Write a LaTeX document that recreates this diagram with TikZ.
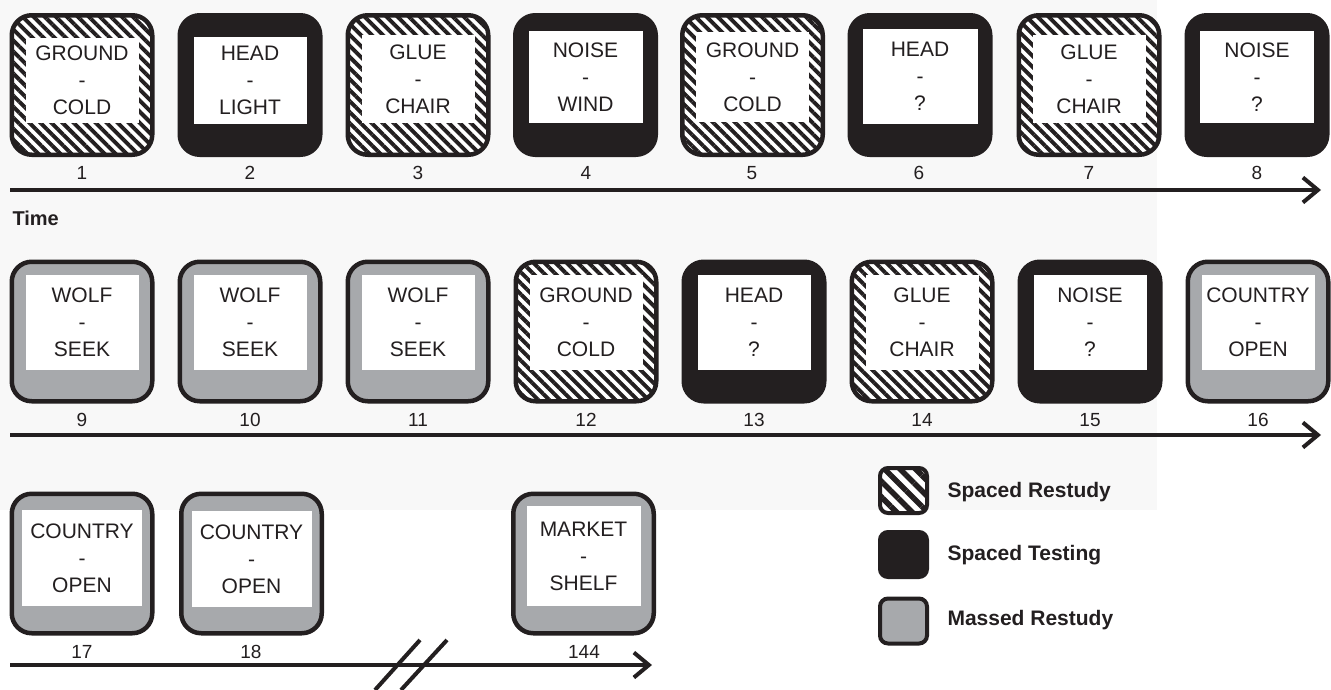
\documentclass[tikz,border=0pt]{standalone}
\usepackage{fontspec}
\setmainfont{Liberation Sans}
\usetikzlibrary{arrows.meta,patterns.meta}
\definecolor{ink}{HTML}{231F20}
\definecolor{midgray}{HTML}{A7A9AC}
\definecolor{bgtint}{HTML}{F8F8F8}
\tikzset{
  cardbase/.style={rounded corners=20pt, line width=4.5pt, draw=ink, minimum width=140.5pt, minimum height=139.5pt, inner sep=0pt},
  hatched/.style={preaction={fill=white}, pattern={Lines[angle=-45,distance=7.8pt,line width=3.9pt]}, pattern color=ink},
  blackcard/.style={fill=ink},
  graycard/.style={fill=midgray},
  innerbox/.style={fill=white, minimum width=113pt, inner sep=0pt, align=center, font=\fontsize{21}{27}\selectfont, text=ink},
  numlabel/.style={font=\fontsize{19}{22}\selectfont, text=ink},
  timeline/.style={draw=ink, line width=4pt, -{Straight Barb[length=15pt,width=25pt]}},
  slashline/.style={draw=ink, line width=4pt},
  legendbox/.style={rounded corners=8pt, line width=4pt, draw=ink, minimum width=47pt, minimum height=45pt, inner sep=0pt},
  legendhatch/.style={preaction={fill=white}, pattern={Lines[angle=-45,distance=11pt,line width=5.5pt]}, pattern color=ink},
  legendtext/.style={font=\bfseries\fontsize{21}{25}\selectfont, anchor=west, text=ink},
}
% name, cx, cy, style, box cy, box h, box w, text
\newcommand\mycard[8]{%
  \node[cardbase,#4] (#1) at (#2,#3) {};
  \node[innerbox, minimum height=#6pt, minimum width=#7pt] (#1t) at (#2,#5) {#8};
}
\begin{document}
\begin{tikzpicture}[x=1pt,y=-1pt]
\useasboundingbox (0,0) rectangle (1331,689);
\fill[bgtint] (0,0) rectangle (1157,510);

% Row 1
\mycard{c1}{82}{85}{hatched}{80.5}{85}{113}{GROUND\\-\\COLD}
\mycard{c2}{250}{85}{blackcard}{80.5}{87}{113}{HEAD\\-\\LIGHT}
\mycard{c3}{418}{85}{hatched}{79}{88}{113}{GLUE\\-\\CHAIR}
\mycard{c4}{585.5}{85}{blackcard}{77}{92}{114}{NOISE\\-\\WIND}
\mycard{c5}{752.5}{85}{hatched}{77}{90}{113}{GROUND\\-\\COLD}
\mycard{c6}{920}{85}{blackcard}{76.5}{95}{115}{HEAD\\-\\?}
\mycard{c7}{1089}{85}{hatched}{79}{88}{113}{GLUE\\-\\CHAIR}
\mycard{c8}{1257}{85}{blackcard}{77}{92}{114}{NOISE\\-\\?}
\foreach \i/\x in {1/82,2/250,3/418,4/586,5/752,6/919,7/1089,8/1257}
  \node[numlabel] (n\i) at (\x,173) {\i};
\coordinate (a1s) at (10,190);
\coordinate (a1e) at (1321,190);
\draw[timeline] (a1s) -- (a1e);

\node[font=\bfseries\fontsize{20}{24}\selectfont, anchor=west, text=ink] (time) at (9,218) {Time};

% Row 2
\mycard{c9}{82}{331.5}{graycard}{322.5}{95}{113}{WOLF\\-\\SEEK}
\mycard{c10}{250}{331.5}{graycard}{322.5}{95}{113}{WOLF\\-\\SEEK}
\mycard{c11}{418}{331.5}{graycard}{322.5}{95}{113}{WOLF\\-\\SEEK}
\mycard{c12}{586}{331.5}{hatched}{322.5}{95}{113}{GROUND\\-\\COLD}
\mycard{c13}{754}{331.5}{blackcard}{322.5}{95}{113}{HEAD\\-\\?}
\mycard{c14}{922}{331.5}{hatched}{322.5}{95}{113}{GLUE\\-\\CHAIR}
\mycard{c15}{1090}{331.5}{blackcard}{322.5}{95}{113}{NOISE\\-\\?}
\mycard{c16}{1258}{331.5}{graycard}{322.5}{95}{113}{COUNTRY\\-\\OPEN}
\foreach \i/\x in {9/82,10/250,11/418,12/586,13/754,14/922,15/1090,16/1258}
  \node[numlabel] (n\i) at (\x,420) {\i};
\coordinate (a2s) at (10,435);
\coordinate (a2e) at (1321,435);
\draw[timeline] (a2s) -- (a2e);

% Row 3
\mycard{c17}{82}{563.5}{graycard}{558}{96}{120}{COUNTRY\\-\\OPEN}
\mycard{c18}{251.5}{563.5}{graycard}{559}{96}{120}{COUNTRY\\-\\OPEN}
\mycard{c144}{583.5}{563.5}{graycard}{556}{100}{114}{MARKET\\-\\SHELF}
\node[numlabel] (n17) at (82,652) {17};
\node[numlabel] (n18) at (251,652) {18};
\node[numlabel] (n144) at (584,652) {144};
\coordinate (a3s) at (10,665);
\coordinate (a3e) at (652,665);
\draw[timeline] (a3s) -- (a3e);
\coordinate (s1a) at (375,690);
\coordinate (s1b) at (420,640);
\coordinate (s2a) at (401,690);
\coordinate (s2b) at (447,640);
\draw[slashline] (s1a) -- (s1b);
\draw[slashline] (s2a) -- (s2b);

% Legend
\node[legendbox, legendhatch] (l1) at (903.5,490.5) {};
\node[legendbox, fill=ink] (l2) at (903.5,554.5) {};
\node[legendbox, fill=midgray] (l3) at (903.5,621) {};
\node[legendtext] (l1t) at (944,492) {Spaced Restudy};
\node[legendtext] (l2t) at (944,555) {Spaced Testing};
\node[legendtext] (l3t) at (944,620) {Massed Restudy};
\end{tikzpicture}
\end{document}
